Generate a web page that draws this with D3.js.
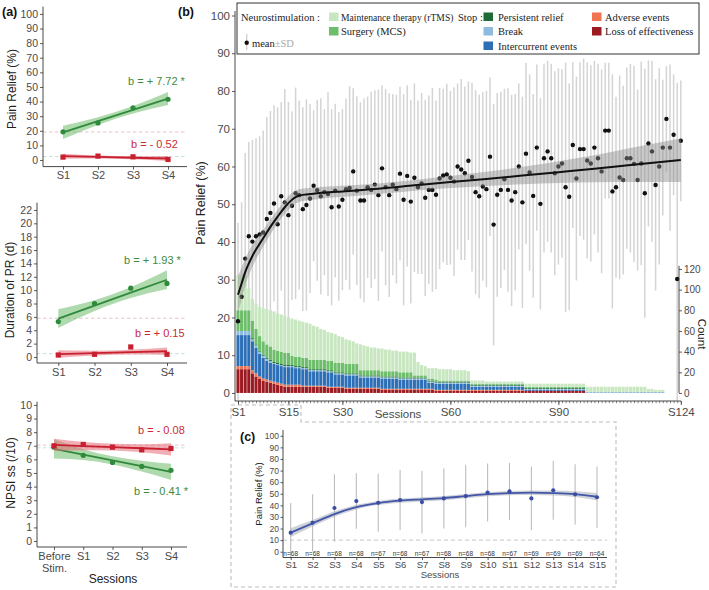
<!DOCTYPE html>
<html><head><meta charset="utf-8">
<script src="https://cdn.jsdelivr.net/npm/d3@7"></script>
<style>body{margin:0;background:#fff}svg{display:block}</style>
</head><body>
<svg id="chart" width="709" height="590"></svg>
<script>
// ---------------- DATA ----------------
// Panel (a)
const aPainCats = ["S1","S2","S3","S4"];
const aPainGreen = [19.3, 25.4, 35.7, 41.6];
const aPainRed = [2.0, 2.7, 2.2, 0.4];
const aPainGreenBand = [4.5, 2.6, 2.6, 4.5];
const aPainRedBand = [1.7, 1.0, 1.0, 1.7];
const aPainRefs = [19.2, 2.4];
const aPainLabels = ["b = + 7.72 *", "b = - 0.52"];
const aPainTicks = [0,10,20,30,40,50,60,70,80,90,100];

const aDurCats = ["S1","S2","S3","S4"];
const aDurGreen = [5.3, 8.0, 10.3, 11.0];
const aDurRed = [0.3, 0.4, 1.5, 0.4];
const aDurGreenBand = [1.4, 0.8, 0.8, 1.4];
const aDurRedBand = [0.55, 0.35, 0.35, 0.55];
const aDurRefs = [5.8, 0.5];
const aDurLabels = ["b = + 1.93 *", "b = + 0.15"];
const aDurTicks = [0,2,4,6,8,10,12,14,16,18,20,22];

const aNpsiCats = ["Before Stim.","S1","S2","S3","S4"];
const aNpsiGreen = [6.9, 6.3, 5.77, 5.48, 5.2];
const aNpsiRed = [7.0, 7.1, 6.9, 6.7, 6.8];
const aNpsiGreenBand = [0.7, 0.4, 0.3, 0.4, 0.6];
const aNpsiRedBand = [0.45, 0.3, 0.25, 0.3, 0.45];
const aNpsiRefs = [7.05, 6.85];
const aNpsiLabels = ["b = - 0.08", "b = - 0.41 *"];
const aNpsiTicks = [0,1,2,3,4,5,6,7,8,9,10];

// Panel (b): mean pain relief per session (S1..S124) and SD
const bMean = [19,25.5,35.6,41.5,40.1,41.5,42,42.5,46.1,47.7,
50.2,44.7,52.1,50.5,47.1,49.6,52.9,52.4,48.7,49.8,
51.5,54.9,53.7,52.1,53.2,52.7,49.2,53.6,49.4,51.2,
54,54.3,58.7,53.6,51,51,54.5,53.8,55.2,52.4,
59.5,54.5,52.4,55.2,54,58.1,51.2,57.5,50.7,57,
54.5,55.5,51.7,53.8,53.8,52.5,56.8,57.6,57.9,57,
56,60,59.2,58.2,61.5,57.2,53.2,52.1,54.7,54,
62.6,44.6,52.5,53.8,56.6,53.8,51,53.2,60,50.5,
63.4,58.4,52.2,65,50.1,62.2,64,62.2,58.2,60,
60.8,54.5,52,65.7,56.8,64.6,64.6,61.6,60.8,65,
62.2,58.7,69.5,69.5,53.4,54.5,57.1,56.4,62.2,62.2,
60.7,56.4,60.8,52.9,66.1,64,55.1,60,65,72.6,
65,68.4,30.2,66.8];
const bSD = [26,25,28,25,27,26,26,27,27,27,
26,31,25,30,30,25,28,25,27,28,
25,20,24,26,22,27,26,23,25,24,
24,27,22,25,26,27,24,26,25,28,
22,26,27,24,25,23,28,24,27,25,
23,24,26,25,27,25,24,23,24,23,
25,22,24,23,21,25,27,27,25,26,
21,32,27,26,24,27,28,26,22,28,
24,26,27,22,28,25,24,25,27,26,
25,33,30,22,27,23,24,26,26,23,
25,27,18,18,31,24,27,25,24,25,
26,24,27,33,22,24,28,26,18,14,
22,16,52,16];
// smooth fit
const bFitS = [1,2,3,4,5,6,7,8,9,10,11,12,13,14,15,16,17,18,20,22,25,30,40,50,60,70,80,90,100,110,124];
const bFitV = [26,29,32,34.3,36.3,38,39.5,41,42.5,44,45.4,46.7,48,49.2,50.3,51.2,51.9,52.3,52.6,52.8,53.1,53.4,54.1,55,55.9,56.7,57.6,58.5,59.4,60.4,61.7];
const bFitBand = [5,4.2,3.6,3.2,2.9,2.6,2.4,2.2,2.1,2,1.9,1.8,1.8,1.8,1.8,1.8,1.7,1.7,1.6,1.6,1.5,1.5,1.4,1.4,1.6,1.9,2.3,2.9,3.6,4.5,5.8];
const bXLabels = [1,15,30,60,90,124];
const bYTicks = [0,10,20,30,40,50,60,70,80,90,100];
const bCountTicks = [0,20,40,60,80,100,120];

// Counts per session (stack, bottom -> top)
const cntLoss = [23,23,23,23,19,16,14,12,11,10,9,8,7,6,6,6,6,6,6,6,
6,6,6,6,6,5,5,5,5,5,4,4,4,4,4,4,4,4,4,4,
3,3,3,3,3,3,3,3,3,3,3,3,3,3,3,2,2,2,2,2,
2,2,2,2,2,2,2,2,2,2,2,2,2,2,2,2,2,2,2,2,
2,2,2,2,2,2,2,2,2,2,2,2,2,2,2,2,2,0,0,0,
0,0,0,0,0,0,0,0,0,0,0,0,0,0,0,0,0,0,0,0,
0,0,0,0];
const cntAdverse = [3,3,3,3,3,3,2,2,2,2,2,2,2,2,2,2,2,2,1,1,
1,1,1,1,1,1,1,1,1,1,1,1,1,1,1,1,1,1,1,1,
1,1,1,1,1,1,1,1,1,1,1,1,1,1,1,1,1,1,1,1,
1,1,1,1,1,1,1,1,1,1,1,1,1,1,1,1,1,1,1,1,
0,0,0,0,0,0,0,0,0,0,0,0,0,0,0,0,0,0,0,0,
0,0,0,0,0,0,0,0,0,0,0,0,0,0,0,0,0,0,0,0,
0,0,0,0];
const cntIntercurrent = [30,30,30,30,28,25,22,20,18,17,17,17,17,17,17,17,16,16,16,16,
14,14,14,14,14,14,14,12,12,12,12,12,12,12,10,10,10,10,10,10,
10,10,10,10,10,9,9,9,9,9,9,9,9,6,6,6,6,6,6,6,
6,6,6,6,6,3,3,3,3,3,3,3,3,3,3,3,3,3,3,3,
1,1,1,1,1,1,1,1,1,1,1,1,1,1,1,1,1,0,0,0,
0,0,0,0,0,0,0,0,0,0,0,0,0,0,0,0,0,0,0,0,
0,0,0,0];
const cntBreak = [4,4,4,4,2,2,2,2,2,2,1,1,1,1,1,1,1,1,1,1,
1,1,1,1,1,1,1,1,1,1,1,1,1,1,1,1,1,1,1,1,
1,1,1,1,1,1,1,1,1,1,1,1,1,1,1,1,1,1,1,1,
1,1,1,1,1,1,1,1,1,1,1,1,1,1,1,1,1,1,1,1,
1,1,1,1,1,1,1,1,1,1,1,1,1,1,1,1,1,1,1,1,
1,1,1,1,1,1,1,1,1,1,1,1,1,1,1,1,1,1,1,0,
0,0,0,0];
const cntPersistent = [0,0,0,0,1,1,1,1,1,1,1,1,1,1,1,1,1,1,1,1,
1,1,1,1,1,1,1,1,1,1,1,1,1,1,1,1,1,1,1,1,
1,1,1,1,1,1,1,1,1,1,1,1,1,1,1,1,1,1,1,1,
1,1,1,1,1,1,1,1,1,1,1,1,1,1,1,1,1,1,1,1,
1,1,1,1,1,1,1,1,1,1,1,1,1,1,1,1,1,0,0,0,
0,0,0,0,0,0,0,0,0,0,0,0,0,0,0,0,0,0,0,0,
0,0,0,0];
const cntSurgery = [20,20,20,20,17,15,14,13,13,13,12,12,12,12,12,9,9,9,9,9,
9,9,9,9,9,9,9,9,9,9,9,9,9,9,5,5,5,5,5,5,
5,5,5,5,5,5,5,5,5,2,2,2,2,2,2,2,1,1,1,1,
1,1,1,1,1,1,1,1,1,1,1,1,1,1,1,1,1,1,1,1,
1,1,1,1,1,1,1,1,1,1,1,1,1,1,1,1,1,0,0,0,
0,0,0,0,0,0,0,0,0,0,0,0,0,0,0,0,0,0,0,0,
0,0,0,0];
const cntMaintenance = [34,34,34,21,21,24,28,32,34,35,37,36,36,36,34,36,36,35,35,34,
35,33,32,30,29,28,27,28,26,25,24,23,22,20,25,24,23,22,22,21,
22,21,21,20,20,20,20,20,19,22,13,10,9,10,10,11,11,11,11,11,
10,10,10,10,9,3,3,3,3,2,2,2,2,2,2,2,2,2,2,2,
3,3,3,3,3,3,3,3,3,3,3,3,3,3,3,3,3,5,5,5,
5,5,5,5,5,5,5,5,5,5,5,5,5,5,3,3,2,2,2,0,
0,0,0,0];
const stackKeys = ["loss","adverse","intercurrent","brk","persistent","surgery","maintenance"];

// Panel (c)
const cCats = ["S1","S2","S3","S4","S5","S6","S7","S8","S9","S10","S11","S12","S13","S14","S15"];
const cMean = [16.4,25.0,37.7,43.7,42.2,44.6,42.8,46.0,48.0,51.0,52.0,46.0,53.0,49.5,47.0];
const cSD = [25.6,24.5,29.0,24.0,25.0,26.0,27.0,26.0,27.0,25.0,24.6,27.5,25.5,26.0,26.5];
const cN = [68,68,68,68,67,68,67,68,68,68,67,69,69,69,64];
const cFit = [16.5,24.5,32.5,38.5,42,44,45.2,46.3,48,49.7,50.6,50.9,50.6,49.7,47.4];
const cFitBand = [3.8,2.8,2.3,2.0,1.8,1.8,1.8,1.8,1.8,1.8,1.8,1.9,2.1,2.5,3.3];
const cTicks = [0,10,20,30,40,50,60,70,80,90,100];

// ---------------- STYLE ----------------
const FONT = "'Liberation Sans', Arial, Helvetica, sans-serif";
const SERIF = "'Liberation Serif', 'Times New Roman', serif";
const TXT = "#4a4a4a";
const AX = "#333";
const GREEN = "#2f8a3c", GREEN_FILL = "#6dbb6a", GREEN_TXT = "#3c8c3c";
const RED = "#c9202f", RED_FILL = "#e56b79", RED_TXT = "#cc2a36";
const colors = {
  maintenance:"#c8e7c0", surgery:"#6dbd6b", persistent:"#1e6b38",
  brk:"#8fbbdf", intercurrent:"#2c6fb6", adverse:"#f07352", loss:"#9c1a22"
};

const svg = d3.select("#chart").attr("font-family", FONT);

function styleAxis(sel, fs){
  sel.selectAll("text").attr("font-size", fs).attr("fill", TXT).attr("font-family", FONT);
  sel.selectAll(".tick line").attr("stroke", AX).attr("stroke-width", 0.8);
  sel.select(".domain").remove();
}
function lm(xs, ys){
  const mx = d3.mean(xs), my = d3.mean(ys);
  let sxy=0, sxx=0;
  xs.forEach((x,i)=>{ sxy += (x-mx)*(ys[i]-my); sxx += (x-mx)*(x-mx); });
  const b = sxy/sxx; return {a: my-b*mx, b};
}

// ---------------- PANEL (a) ----------------
function drawA(p){
  const g = svg.append("g");
  const x = d3.scalePoint().domain(p.cats).range(p.xRange);
  const y = d3.scaleLinear().domain(p.yDomain).range(p.yRange);
  const xEnd = 187;
  p.refs.forEach((r,i)=>{
    g.append("line").attr("x1", p.axisX).attr("x2", xEnd).attr("y1", y(r)).attr("y2", y(r))
      .attr("stroke", i===0 ? "#e9c3c6" : "#c6dfe0").attr("stroke-width", 1).attr("stroke-dasharray","3.5,2.5");
  });
  const idx = p.cats.map((c,i)=>i);
  const groups = [
    {vals:p.green, band:p.greenBand, col:GREEN, fill:GREEN_FILL, shape:"circle"},
    {vals:p.red, band:p.redBand, col:RED, fill:RED_FILL, shape:"square"}
  ];
  groups.forEach(gr=>{
    const f = lm(idx, gr.vals);
    const fitted = idx.map(i=>f.a+f.b*i);
    const area = d3.area().x((d,i)=>x(p.cats[i])).y0((d,i)=>y(d-gr.band[i])).y1((d,i)=>y(d+gr.band[i])).curve(d3.curveMonotoneX);
    g.append("path").attr("d", area(fitted)).attr("fill", gr.fill).attr("opacity", 0.55);
    g.append("path").attr("d", d3.line().x((d,i)=>x(p.cats[i])).y(d=>y(d))(fitted))
      .attr("stroke", gr.col).attr("stroke-width", 1.8).attr("fill","none");
    gr.vals.forEach((v,i)=>{
      if (gr.shape==="circle") g.append("circle").attr("cx", x(p.cats[i])).attr("cy", y(v)).attr("r", 2.6).attr("fill", gr.col);
      else g.append("rect").attr("x", x(p.cats[i])-2.6).attr("y", y(v)-2.6).attr("width",5.2).attr("height",5.2).attr("fill", gr.col);
    });
  });
  const ya = g.append("g").attr("transform",`translate(${p.axisX},0)`)
    .call(d3.axisLeft(y).tickValues(p.ticks).tickSize(3).tickPadding(2));
  styleAxis(ya, 10.5);
  g.append("line").attr("x1",p.axisX).attr("x2",p.axisX).attr("y1",p.yRange[0]).attr("y2",p.yRange[1]).attr("stroke",AX).attr("stroke-width",0.9);
  g.append("line").attr("x1",p.axisX).attr("x2",xEnd).attr("y1",p.yRange[0]).attr("y2",p.yRange[0]).attr("stroke",AX).attr("stroke-width",0.9);
  const xa = g.append("g").attr("transform",`translate(0,${p.yRange[0]})`)
    .call(d3.axisBottom(x).tickSize(3).tickPadding(2));
  styleAxis(xa, 11);
  xa.selectAll(".tick text").each(function(d){
    const t = d3.select(this);
    if (d.indexOf(" ")>0){
      const parts = d.split(" ");
      t.text(null);
      t.append("tspan").attr("x",0).attr("dy","0.71em").text(parts[0]);
      t.append("tspan").attr("x",0).attr("dy","1.1em").text(parts[1]);
    }
  });
  g.append("text").attr("transform",`translate(${p.titleX},${p.titleY}) rotate(-90)`)
    .attr("text-anchor","middle").attr("font-size",12).attr("fill","#222").text(p.title);
  p.labels.forEach((l,i)=>{
    g.append("text").attr("x", p.labelPos[i][0]).attr("y", p.labelPos[i][1]).attr("font-size", 11)
      .attr("fill", p.labelColors[i]).text(l);
  });
}

drawA({cats:aPainCats, xRange:[63,168], yDomain:[-4.5,105], yRange:[166.6,6.6], axisX:43,
  ticks:aPainTicks, green:aPainGreen, red:aPainRed, greenBand:aPainGreenBand, redBand:aPainRedBand,
  refs:aPainRefs, title:"Pain Relief (%)", titleX:16, titleY:89,
  labels:aPainLabels, labelColors:[GREEN_TXT, RED_TXT], labelPos:[[128,85],[131,148]]});
drawA({cats:aDurCats, xRange:[58.3,167], yDomain:[-0.9,23.1], yRange:[363,202.6], axisX:37,
  ticks:aDurTicks, green:aDurGreen, red:aDurRed, greenBand:aDurGreenBand, redBand:aDurRedBand,
  refs:aDurRefs, title:"Duration of PR (d)", titleX:14, titleY:290,
  labels:aDurLabels, labelColors:[GREEN_TXT, RED_TXT], labelPos:[[124,264],[135,337]]});
drawA({cats:aNpsiCats, xRange:[54,171], yDomain:[-0.44,10.24], yRange:[547,401.7], axisX:37,
  ticks:aNpsiTicks, green:aNpsiGreen, red:aNpsiRed, greenBand:aNpsiGreenBand, redBand:aNpsiRedBand,
  refs:aNpsiRefs, title:"NPSI ss (/10)", titleX:15, titleY:473,
  labels:aNpsiLabels, labelColors:[RED_TXT, GREEN_TXT], labelPos:[[138,434],[134,495]]});
svg.append("text").attr("x",113).attr("y",583).attr("text-anchor","middle").attr("font-size",12).attr("fill","#222").text("Sessions");
svg.append("text").attr("x",2).attr("y",16).attr("font-size",12.5).attr("font-weight","bold").attr("fill","#111").text("(a)");

// ---------------- PANEL (b) ----------------
(function(){
  const g = svg.append("g");
  const sessions = d3.range(1, bMean.length+1);
  const xB = d3.scaleLinear().domain([1,124]).range([238,680.8]);
  const yB = d3.scaleLinear().domain([-2,100]).range([400.5,15.5]);
  const yCnt = d3.scaleLinear().domain([0,120]).range([yB(0), yB(0)-124]);
  const axisY = 401, axisLeft = 235, axisRight = 679;

  g.append("g").selectAll("line").data(sessions).join("line")
    .attr("x1", s=>xB(s)).attr("x2", s=>xB(s))
    .attr("y1", (s,i)=>yB(Math.min(100, bMean[i]+bSD[i])))
    .attr("y2", (s,i)=>yB(Math.max(-2, bMean[i]-bSD[i])))
    .attr("stroke","#d4d4d4").attr("stroke-width",1.5);

  const table = sessions.map((s,i)=>({session:s, loss:cntLoss[i], adverse:cntAdverse[i],
    intercurrent:cntIntercurrent[i], brk:cntBreak[i], persistent:cntPersistent[i],
    surgery:cntSurgery[i], maintenance:cntMaintenance[i]}));
  const stacked = d3.stack().keys(stackKeys)(table);
  stacked.forEach(layer=>{
    g.append("g").selectAll("rect").data(layer.filter(d=>d[1]>d[0])).join("rect")
      .attr("x", d=>xB(d.data.session)-1.55).attr("width", 3.1)
      .attr("y", d=>yCnt(d[1])).attr("height", d=>yCnt(d[0])-yCnt(d[1]))
      .attr("fill", colors[layer.key]);
  });

  g.append("g").selectAll("circle").data(sessions).join("circle")
    .attr("cx", s=>xB(s)).attr("cy",(s,i)=>yB(bMean[i])).attr("r",2.2).attr("fill","#111");

  const area = d3.area().x((d,i)=>xB(bFitS[i])).y0((d,i)=>yB(d-bFitBand[i])).y1((d,i)=>yB(d+bFitBand[i])).curve(d3.curveMonotoneX);
  g.append("path").attr("d", area(bFitV)).attr("fill","#8a8a8a").attr("opacity",0.45);
  g.append("path").attr("d", d3.line().x((d,i)=>xB(bFitS[i])).y(d=>yB(d)).curve(d3.curveMonotoneX)(bFitV))
    .attr("fill","none").attr("stroke","#111").attr("stroke-width",2);

  const ya = g.append("g").attr("transform",`translate(${axisLeft},0)`)
    .call(d3.axisLeft(yB).tickValues(bYTicks).tickSize(3).tickPadding(2));
  styleAxis(ya, 11.5);
  g.append("line").attr("x1",axisLeft).attr("x2",axisLeft).attr("y1",axisY).attr("y2",11).attr("stroke",AX).attr("stroke-width",0.9);
  const yc = g.append("g").attr("transform",`translate(${axisRight},0)`)
    .call(d3.axisRight(yCnt).tickValues(bCountTicks).tickSize(3).tickPadding(2));
  styleAxis(yc, 10);
  g.append("line").attr("x1",axisRight).attr("x2",axisRight).attr("y1",yCnt(0)).attr("y2",yCnt(123)).attr("stroke",AX).attr("stroke-width",0.9);
  g.append("text").attr("transform",`translate(698,334) rotate(90)`).attr("text-anchor","middle")
    .attr("font-size",11.5).attr("fill","#222").text("Count");
  g.append("line").attr("x1",axisLeft).attr("x2",681).attr("y1",axisY).attr("y2",axisY).attr("stroke",AX).attr("stroke-width",0.9);
  const xm = g.append("g").attr("transform",`translate(0,${axisY})`)
    .call(d3.axisBottom(xB).tickValues(sessions).tickSize(2.2).tickFormat(""));
  styleAxis(xm, 11);
  xm.selectAll(".tick line").attr("stroke-width",0.6);
  const xa = g.append("g").attr("transform",`translate(0,${axisY})`)
    .call(d3.axisBottom(xB).tickValues(bXLabels).tickSize(4).tickPadding(3).tickFormat(d=>"S"+d));
  styleAxis(xa, 11.5);
  g.append("text").attr("x",398).attr("y",418).attr("text-anchor","middle").attr("font-size",11.5).attr("fill",TXT).text("Sessions");
  g.append("text").attr("transform",`translate(205,203) rotate(-90)`).attr("text-anchor","middle")
    .attr("font-size",12.5).attr("fill","#222").text("Pain Relief (%)");
  g.append("text").attr("x",178).attr("y",16).attr("font-size",12.5).attr("font-weight","bold").attr("fill","#111").text("(b)");

  // legend
  const lg = g.append("g").attr("font-family", SERIF).attr("font-size", 10.5).attr("fill","#222");
  lg.append("rect").attr("x",237).attr("y",3).attr("width",462).attr("height",51).attr("fill","#fff").attr("stroke","#333").attr("stroke-width",1);
  lg.append("text").attr("x",241).attr("y",20.5).text("Neurostimulation :");
  const sw = (x,y,c)=>lg.append("rect").attr("x",x).attr("y",y).attr("width",9.5).attr("height",8.5).attr("fill",c);
  sw(329,12.5,colors.maintenance);
  lg.append("text").attr("x",341).attr("y",20.5).attr("font-size",9.6).text("Maintenance therapy (rTMS)");
  sw(329,27,colors.surgery); lg.append("text").attr("x",341).attr("y",35).text("Surgery (MCS)");
  lg.append("line").attr("x1",246.7).attr("x2",246.7).attr("y1",34).attr("y2",50).attr("stroke","#d2d2d2").attr("stroke-width",1.4);
  lg.append("circle").attr("cx",246.7).attr("cy",42.7).attr("r",2.2).attr("fill","#111");
  const mt = lg.append("text").attr("x",252).attr("y",46.5);
  mt.append("tspan").text("mean"); mt.append("tspan").attr("fill","#aaa").text("±SD");
  lg.append("text").attr("x",458).attr("y",20.5).text("Stop :");
  sw(483.5,12.5,colors.persistent); lg.append("text").attr("x",498).attr("y",20.5).text("Persistent relief");
  sw(483.5,27,colors.brk); lg.append("text").attr("x",498).attr("y",35).text("Break");
  sw(483.5,41.5,colors.intercurrent); lg.append("text").attr("x",498).attr("y",49.5).text("Intercurrent events");
  sw(592,12.5,colors.adverse); lg.append("text").attr("x",605).attr("y",20.5).text("Adverse events");
  sw(592,27,colors.loss); lg.append("text").attr("x",605).attr("y",35).text("Loss of effectiveness");
})();

// ---------------- PANEL (c) ----------------
(function(){
  const g = svg.append("g");
  g.append("path").attr("d","M231,405 H301 V422 H616 V587 H231 Z").attr("fill","none")
    .attr("stroke","#bdbdbd").attr("stroke-width",1.1).attr("stroke-dasharray","4,3");
  const x = d3.scalePoint().domain(cCats).range([290.7,597]);
  const y = d3.scaleLinear().domain([-5,105]).range([557.5,430]);
  const axX = 283, xEnd = 607;
  g.append("line").attr("x1",axX).attr("x2",xEnd).attr("y1",y(10)).attr("y2",y(10))
    .attr("stroke","#c4c4c4").attr("stroke-dasharray","4,3").attr("stroke-width",1);
  g.append("g").selectAll("line").data(cCats).join("line")
    .attr("x1",d=>x(d)).attr("x2",d=>x(d))
    .attr("y1",(d,i)=>y(cMean[i]+cSD[i])).attr("y2",(d,i)=>y(Math.max(-5,cMean[i]-cSD[i])))
    .attr("stroke","#bdbdbd").attr("stroke-width",1.1);
  const area = d3.area().x((d,i)=>x(cCats[i])).y0((d,i)=>y(d-cFitBand[i])).y1((d,i)=>y(d+cFitBand[i])).curve(d3.curveMonotoneX);
  g.append("path").attr("d",area(cFit)).attr("fill","#a9adb8").attr("opacity",0.55);
  g.append("path").attr("d",d3.line().x((d,i)=>x(cCats[i])).y(d=>y(d)).curve(d3.curveMonotoneX)(cFit))
    .attr("fill","none").attr("stroke","#4257a8").attr("stroke-width",1.8);
  g.append("g").selectAll("circle").data(cCats).join("circle")
    .attr("cx",d=>x(d)).attr("cy",(d,i)=>y(cMean[i])).attr("r",2.1).attr("fill","#3a4ca3");
  g.append("g").selectAll("text").data(cCats).join("text")
    .attr("x",d=>x(d)).attr("y",555.5).attr("text-anchor","middle").attr("font-size",6.5).attr("fill","#333")
    .text((d,i)=>"n="+cN[i]);
  const ya = g.append("g").attr("transform",`translate(${axX},0)`)
    .call(d3.axisLeft(y).tickValues(cTicks).tickSize(2.5).tickPadding(1.5));
  styleAxis(ya, 8.5);
  g.append("line").attr("x1",axX).attr("x2",axX).attr("y1",557.5).attr("y2",430).attr("stroke",AX).attr("stroke-width",0.9);
  g.append("line").attr("x1",axX).attr("x2",xEnd).attr("y1",557.5).attr("y2",557.5).attr("stroke",AX).attr("stroke-width",0.9);
  const xa = g.append("g").attr("transform",`translate(0,557.5)`)
    .call(d3.axisBottom(x).tickSize(2.5).tickPadding(1.5));
  styleAxis(xa, 9.5);
  g.append("text").attr("x",440).attr("y",578).attr("text-anchor","middle").attr("font-size",9.5).attr("fill",TXT).text("Sessions");
  g.append("text").attr("transform",`translate(262,494) rotate(-90)`).attr("text-anchor","middle")
    .attr("font-size",9.5).attr("fill","#222").text("Pain Relief (%)");
  g.append("text").attr("x",240).attr("y",441).attr("font-size",12.5).attr("font-weight","bold").attr("fill","#111").text("(c)");
})();
</script>
</body></html>
